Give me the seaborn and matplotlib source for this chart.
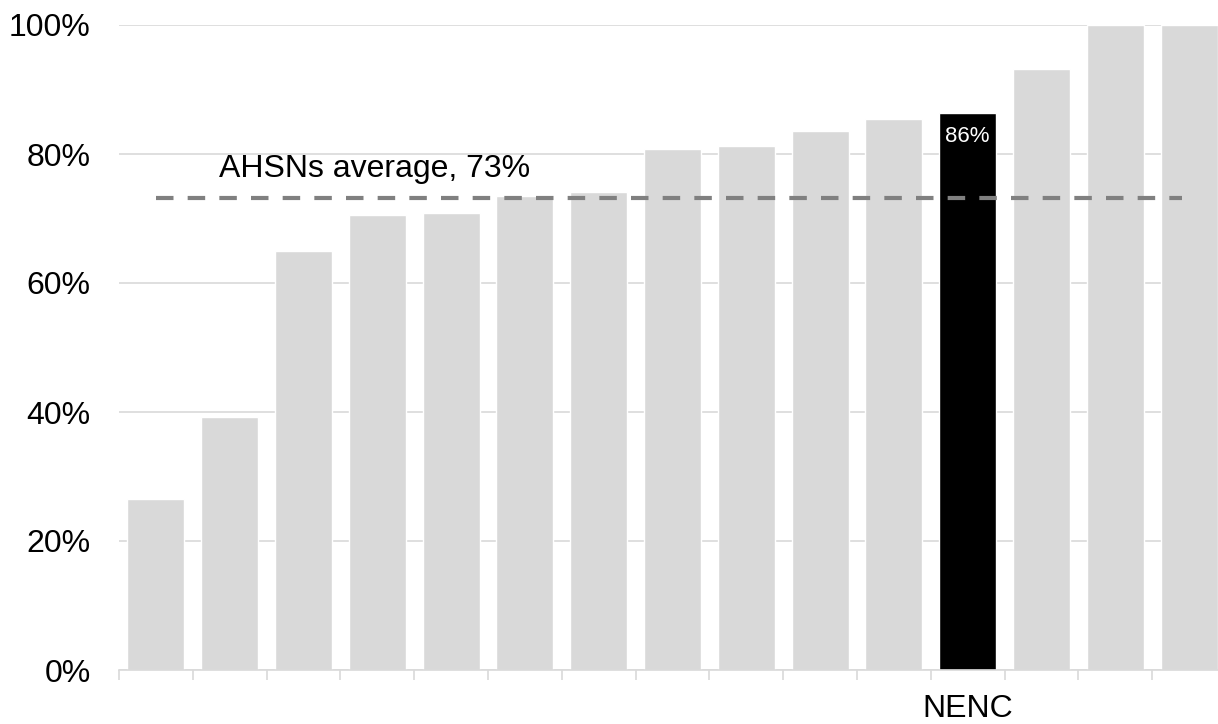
import matplotlib
matplotlib.use("Agg")
import matplotlib.pyplot as plt
import seaborn as sns
import pandas as pd
import numpy as np

# Share of each AHSN, sorted ascending; only NENC is labelled
regions = ["R01", "R02", "R03", "R04", "R05", "R06", "R07", "R08",
           "R09", "R10", "R11", "NENC", "R13", "R14", "R15"]
values = [26.5, 39.2, 65.0, 70.5, 70.9, 73.5, 74.1, 80.8,
          81.2, 83.6, 85.4, 86.4, 93.2, 100.0, 100.0]
tick_labels = ["", "", "", "", "", "", "", "", "", "", "", "NENC", "", "", ""]
highlight = "NENC"
average = 73.2
average_label = "AHSNs average, 73%"
yticks = [0, 20, 40, 60, 80, 100]

sns.set_theme(style="white")
plt.rcParams["font.family"] = ["Liberation Sans", "DejaVu Sans"]

df = pd.DataFrame({"region": regions, "value": values})
palette = {r: ("#000000" if r == highlight else "#d9d9d9") for r in regions}

fig = plt.figure(figsize=(12.18, 7.24), dpi=100)
ax = fig.add_axes([119 / 1218, 54 / 724, 1107 / 1218, 645 / 724])

sns.barplot(data=df, x="region", y="value", hue="region", palette=palette,
            order=regions, legend=False, width=0.77, saturation=1,
            ax=ax, zorder=2)

ax.set_xlim(-0.5, len(regions) - 0.5)
ax.set_ylim(0, 100)
ax.set_yticks(yticks)
ax.set_yticklabels([f"{t}%" for t in yticks])
ax.yaxis.grid(True, color="#d9d9d9", linewidth=1.2, zorder=0)
ax.set_axisbelow(True)
ax.set_xlabel("")
ax.set_ylabel("")

# Category labels centred, tick marks between categories
ax.set_xticks(range(len(regions)))
ax.set_xticklabels(tick_labels)
ax.set_xticks(np.arange(-0.5, len(regions), 1.0), minor=True)
ax.tick_params(axis="x", which="major", length=0, pad=17, labelsize=23,
               colors="black")
ax.tick_params(axis="x", which="minor", length=7.5, width=1.2,
               color="#d9d9d9", bottom=True)
ax.tick_params(axis="y", length=0, pad=20.5, labelsize=23, colors="black")

for side in ["left", "right", "top"]:
    ax.spines[side].set_visible(False)
ax.spines["bottom"].set_color("#d9d9d9")
ax.spines["bottom"].set_linewidth(1.2)

# Value label on the highlighted bar
idx = regions.index(highlight)
ax.text(idx, values[idx] - 2.0, f"{values[idx]:.0f}%", ha="center", va="top",
        color="white", fontsize=16, zorder=4)

# Average reference line
ax.plot([0.0, len(regions) - 1.1], [average, average], color="#808080",
        linewidth=3.0, linestyle=(0, (4.2, 3.4)), zorder=3,
        solid_capstyle="butt")
ax.text(0.86, 76.4, average_label, ha="left", va="baseline",
        fontsize=23, color="black", zorder=4)

fig.savefig("out.png", dpi=100)
